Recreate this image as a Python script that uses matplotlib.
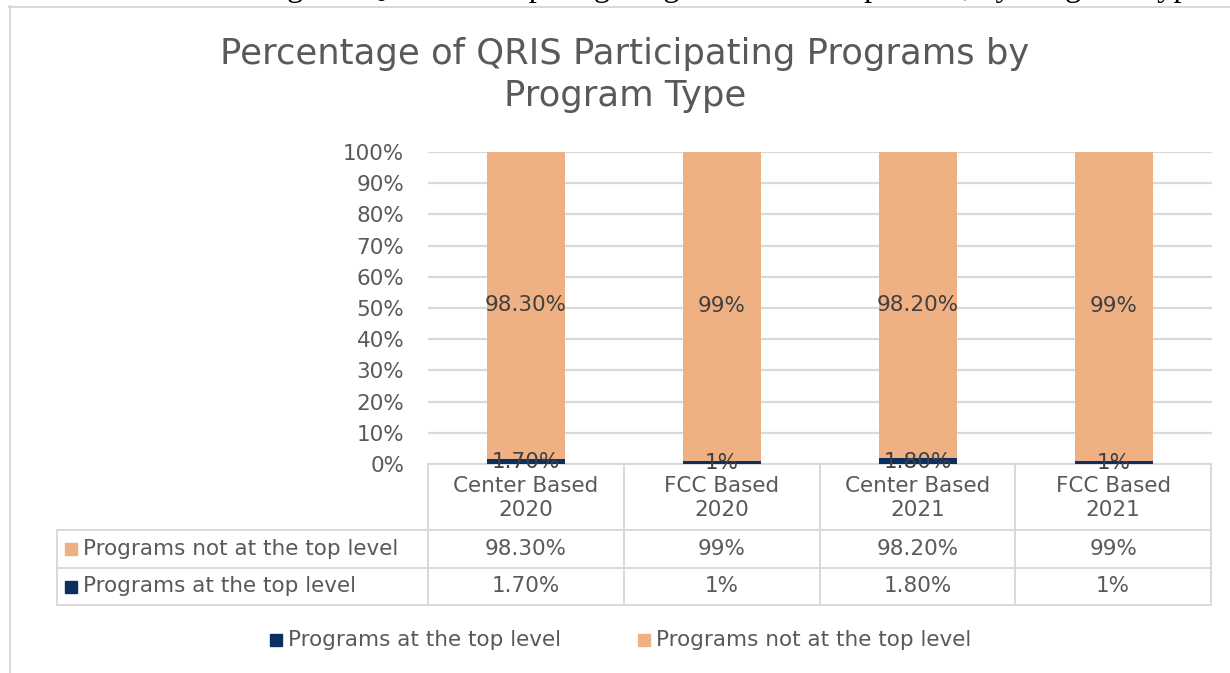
import matplotlib.pyplot as plt
from matplotlib.lines import Line2D
from matplotlib.patches import Rectangle
import numpy as np

# chart data
categories = ["Center Based\n2020", "FCC Based\n2020", "Center Based\n2021", "FCC Based\n2021"]
top_level = [1.7, 1.0, 1.8, 1.0]
not_top_level = [98.3, 99.0, 98.2, 99.0]
top_labels = ["1.70%", "1%", "1.80%", "1%"]
not_top_labels = ["98.30%", "99%", "98.20%", "99%"]
series_names = ["Programs at the top level", "Programs not at the top level"]
yticks = [0, 10, 20, 30, 40, 50, 60, 70, 80, 90, 100]

NAVY = "#0b2f5f"
PEACH = "#efb084"
TEXT = "#595959"
LABEL = "#404040"
RULE = "#d9d9d9"
FONT = "DejaVu Sans"
FS = 15.5

W, H = 1230, 673
fig = plt.figure(figsize=(W / 100, H / 100), dpi=100)

def px_axes(x0, y0, x1, y1, **kw):
    # axes placed by pixel box (top-left origin)
    return fig.add_axes([x0 / W, 1 - y1 / H, (x1 - x0) / W, (y1 - y0) / H], **kw)

# overlay in pixel coordinates for frame, table and legend
ov = px_axes(0, 0, W, H, zorder=0)
ov.set_xlim(0, W)
ov.set_ylim(H, 0)
ov.axis("off")

# document caption running off the top edge
fig.text(1212 / W, 1 + 4 / H,
         "Number and Percentage of QRIS Participating Programs at the Top Level, by Program Type.",
         ha="right", va="baseline", fontsize=23.5, family="Liberation Serif", color="black")

# chart frame
ov.add_line(Line2D([9, W], [6.5, 6.5], color=RULE, lw=1.4))
ov.add_line(Line2D([9.5, 9.5], [6, H], color=RULE, lw=1.4))

# title
fig.text(625 / W, 1 - 75 / H, "Percentage of QRIS Participating Programs by\nProgram Type",
         ha="center", va="center", fontsize=25.5, color=TEXT, family=FONT, linespacing=1.32)

# bar plot
ax = px_axes(428, 152, 1212, 464, zorder=2)
x = np.arange(len(categories))
ax.bar(x, top_level, width=0.4, color=NAVY, zorder=3)
ax.bar(x, not_top_level, width=0.4, bottom=top_level, color=PEACH, zorder=3)
ax.set_xlim(-0.5, len(categories) - 0.5)
ax.set_ylim(0, 100)
ax.set_yticks(yticks)
ax.set_yticklabels([f"{t}%" for t in yticks], fontsize=FS, color=TEXT, family=FONT)
ax.tick_params(axis="y", length=0, pad=17)
ax.set_xticks([])
ax.grid(axis="y", color=RULE, lw=1.6, zorder=0)
ax.set_axisbelow(True)
for s in ax.spines.values():
    s.set_visible(False)
ax.patch.set_alpha(0)

for i in range(len(categories)):
    ax.text(x[i], top_level[i] + not_top_level[i] / 2, not_top_labels[i], ha="center", va="center",
            fontsize=FS, color=LABEL, family=FONT, zorder=4)
    ax.text(x[i], top_level[i] / 2 - 0.3, top_labels[i], ha="center", va="center",
            fontsize=FS, color=LABEL, family=FONT, zorder=4)

# data table under the plot
col_edges = np.linspace(428, 1211, len(categories) + 1)
row_edges = [464, 530, 568, 605]
tab_left = 57
ov.add_line(Line2D([col_edges[0], col_edges[-1]], [row_edges[0]] * 2, color=RULE, lw=1.4))
for y in row_edges[1:]:
    ov.add_line(Line2D([tab_left, col_edges[-1]], [y, y], color=RULE, lw=1.4))
for cx in col_edges:
    ov.add_line(Line2D([cx, cx], [row_edges[0], row_edges[-1]], color=RULE, lw=1.4))
ov.add_line(Line2D([tab_left, tab_left], [row_edges[1], row_edges[-1]], color=RULE, lw=1.4))

centers = (col_edges[:-1] + col_edges[1:]) / 2
rows = [(series_names[1], PEACH, not_top_labels), (series_names[0], NAVY, top_labels)]
for i, cat in enumerate(categories):
    ov.text(centers[i], (row_edges[0] + row_edges[1]) / 2 + 1, cat, ha="center", va="center",
            fontsize=FS, color=TEXT, family=FONT, linespacing=1.2)
for r, (name, col, labels) in enumerate(rows):
    yc = (row_edges[r + 1] + row_edges[r + 2]) / 2
    ov.add_patch(Rectangle((65, yc - 6), 12, 12, color=col))
    ov.text(83, yc, name, ha="left", va="center", fontsize=FS, color=TEXT, family=FONT)
    for i, lab in enumerate(labels):
        ov.text(centers[i], yc, lab, ha="center", va="center", fontsize=FS, color=TEXT, family=FONT)

# legend
for sx, col, name in [(270, NAVY, series_names[0]), (638, PEACH, series_names[1])]:
    ov.add_patch(Rectangle((sx, 634), 12, 12, color=col))
    ov.text(sx + 18, 640, name, ha="left", va="center", fontsize=FS, color=TEXT, family=FONT)

fig.savefig("out.png", dpi=100)
